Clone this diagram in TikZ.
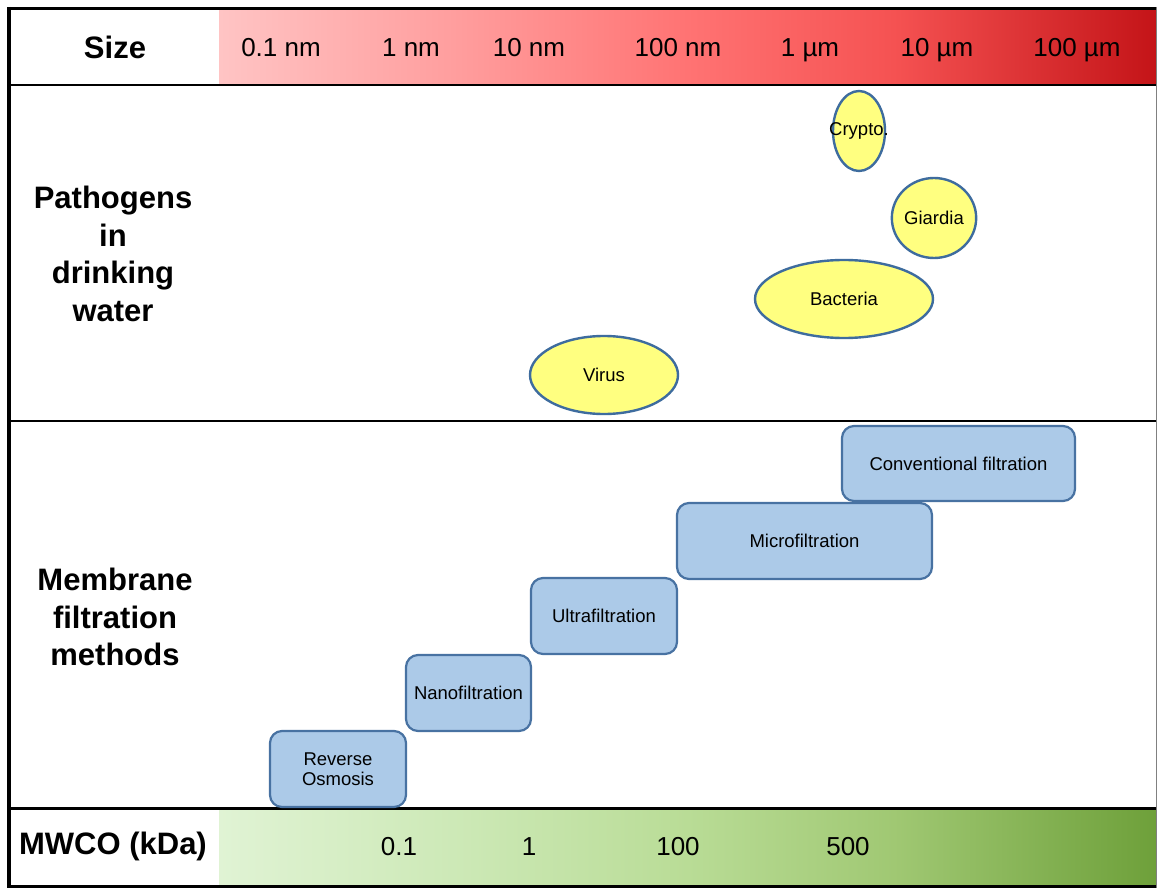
\documentclass[tikz,border=0pt]{standalone}
\usepackage{fontspec}
\setmainfont{Liberation Sans}
\usetikzlibrary{shapes.geometric}
\definecolor{ellfill}{RGB}{255,255,128}
\definecolor{ellline}{RGB}{62,108,158}
\definecolor{boxfill}{RGB}{172,202,232}
\definecolor{boxline}{RGB}{72,114,162}
\definecolor{redA}{RGB}{255,196,196}
\definecolor{redB}{RGB}{255,158,158}
\definecolor{redC}{RGB}{255,115,115}
\definecolor{redD}{RGB}{245,82,82}
\definecolor{redE}{RGB}{196,20,24}
\definecolor{grnA}{RGB}{224,243,212}
\definecolor{grnB}{RGB}{205,233,183}
\definecolor{grnC}{RGB}{185,220,150}
\definecolor{grnD}{RGB}{160,200,115}
\definecolor{grnE}{RGB}{110,160,58}
\pgfdeclarehorizontalshading{redband}{100bp}{color(0bp)=(redA); color(25bp)=(redA); color(37.5bp)=(redB); color(50bp)=(redC); color(61bp)=(redD); color(75bp)=(redE); color(100bp)=(redE)}
\pgfdeclarehorizontalshading{grnband}{100bp}{color(0bp)=(grnA); color(25bp)=(grnA); color(37.5bp)=(grnB); color(50bp)=(grnC); color(61bp)=(grnD); color(75bp)=(grnE); color(100bp)=(grnE)}
\tikzset{
  rowlabel/.style={font=\fontsize{31}{37.5}\selectfont\bfseries, align=center, inner sep=0pt},
  scalelabel/.style={font=\fontsize{26}{30}\selectfont, inner sep=0pt, anchor=base},
  pathogen/.style={ellipse, draw=ellline, fill=ellfill, line width=2.4pt, inner sep=0pt,
    font=\fontsize{18.5}{21}\selectfont},
  method/.style={rectangle, rounded corners=12pt, draw=boxline, fill=boxfill, line width=2.2pt,
    inner sep=0pt, align=center, font=\fontsize{18.5}{20.5}\selectfont},
  frame/.style={draw=black, line width=#1},
}
\begin{document}
\begin{tikzpicture}[x=1pt,y=-1pt]
\useasboundingbox (0,0) rectangle (1158,890);
\fill[white] (0,0) rectangle (1158,890);
% gradient bands
\shade[shading=redband] (219,9) rectangle (1156,85);
\shade[shading=grnband] (219,808) rectangle (1156,886);
% frame lines
\draw[frame=2.5pt] (9,85) -- (1156,85);
\draw[frame=2.5pt] (9,421) -- (1156,421);
\draw[frame=3pt] (9,808) -- (1156,808);
\draw[frame=3.5pt] (7,8.5) -- (1157,8.5);
\draw[frame=3pt] (7,886.5) -- (1157,886.5);
\draw[frame=4pt] (9,7) -- (9,888);
\draw[draw=gray, line width=1.2pt] (1156.5,7) -- (1156.5,888);
% row labels
\node[rowlabel] (lsize) at (115,47) {Size};
\node[rowlabel] (lpath) at (113,254) {Pathogens\\in\\drinking\\water};
\node[rowlabel] (lmem) at (115,617) {Membrane\\filtration\\methods};
\node[rowlabel] (lmwco) at (113,846) {MWCO (kDa)};
% size scale
\node[scalelabel] (s1) at (281,57) {0.1 nm};
\node[scalelabel] (s2) at (411,57) {1 nm};
\node[scalelabel] (s3) at (529,57) {10 nm};
\node[scalelabel] (s4) at (678,57) {100 nm};
\node[scalelabel] (s5) at (810,57) {1 µm};
\node[scalelabel] (s6) at (937,57) {10 µm};
\node[scalelabel] (s7) at (1077,57) {100 µm};
% MWCO scale
\node[scalelabel] (m1) at (399,855) {0.1};
\node[scalelabel] (m2) at (529,855) {1};
\node[scalelabel] (m3) at (678,855) {100};
\node[scalelabel] (m4) at (848,855) {500};
% pathogens
\node[pathogen, minimum width=52pt, minimum height=80pt] (crypto) at (859,131) {\makebox[0pt]{Crypto.}};
\node[pathogen, minimum width=80pt, minimum height=80pt] (giardia) at (934,218) {Giardia};
\node[pathogen, minimum width=178pt, minimum height=78pt] (bacteria) at (844,299) {Bacteria};
\node[pathogen, minimum width=148pt, minimum height=78pt] (virus) at (604,375) {Virus};
% methods
\node[method, minimum width=233pt, minimum height=75pt] (conv) at (958.5,463.5) {Conventional filtration};
\node[method, minimum width=255pt, minimum height=76pt] (micro) at (804.5,541) {Microfiltration};
\node[method, minimum width=146pt, minimum height=76pt] (ultra) at (604,616) {Ultrafiltration};
\node[method, minimum width=125pt, minimum height=76pt] (nano) at (468.5,693) {Nanofiltration};
\node[method, minimum width=136pt, minimum height=76pt] (ro) at (338,769) {Reverse\\Osmosis};
\end{tikzpicture}
\end{document}
